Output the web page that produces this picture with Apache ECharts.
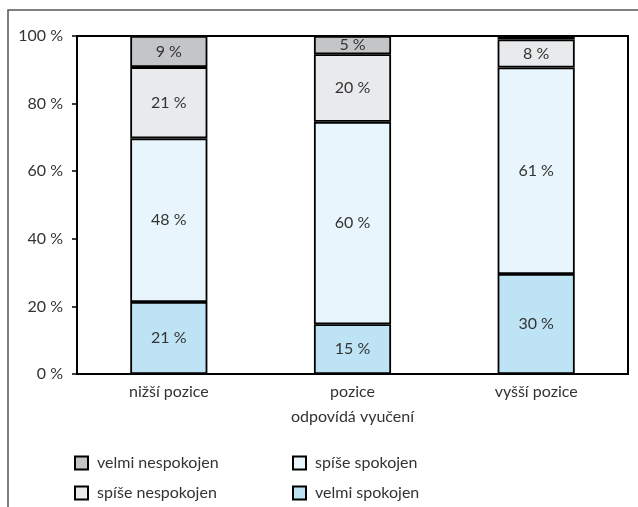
<!DOCTYPE html>
<html>
<head>
<meta charset="utf-8">
<script src="https://cdn.jsdelivr.net/npm/echarts@6/dist/echarts.min.js"></script>
<style>
  html, body { margin: 0; padding: 0; background: #fff; }
  #chart { width: 638px; height: 507px; }
</style>
</head>
<body>
<div id="chart"></div>
<script>
// categories on the x axis
var categories = ['nižší pozice', 'pozice\nodpovídá vyučení', 'vyšší pozice'];
// shares in % (labels show rounded values)
var velmiSpokojen = [21.3, 14.7, 29.6];
var spiseSpokojen = [48.4, 59.9, 61.1];
var spiseNespokojen = [21.1, 20.0, 8.3];
var velmiNespokojen = [9.2, 5.4, 1.0];
var yTicks = [0, 20, 40, 60, 80, 100];

var font = 'Lato, "Noto Sans", sans-serif';
var textColor = '#333';

function segment (name, data, color) {
  return {
    name: name,
    type: 'bar',
    stack: 'total',
    barWidth: '42%',
    data: data,
    itemStyle: { color: color, borderColor: '#000', borderWidth: 1.8 },
    label: {
      show: true,
      position: 'inside',
      color: textColor,
      fontFamily: font,
      fontSize: 16,
      formatter: function (p) {
        return p.value < 2 ? '' : Math.round(p.value) + ' %'
      }
    }
  }
}

var legendText = { fontFamily: font, fontSize: 16, lineHeight: 16, color: textColor, padding: [0, 0, 0, 4] };

function legendAt (left, names) {
  return {
    orient: 'vertical',
    left: left,
    top: 450,
    height: 50,
    itemWidth: 13,
    itemHeight: 13,
    itemGap: 14,
    icon: 'rect',
    data: names,
    itemStyle: { borderColor: '#000', borderWidth: 2 },
    textStyle: legendText
  }
}

var chart = echarts.init(document.getElementById('chart'));
chart.setOption({
  animation: false,
  backgroundColor: '#fff',
  textStyle: { fontFamily: font, color: textColor },
  graphic: [{
    type: 'polyline',
    shape: { points: [[8, 507], [8, 10], [638, 10]] },
    style: { stroke: '#555', lineWidth: 1.5, fill: null }
  }],
  grid: {
    left: 77,
    right: 10,
    top: 36,
    bottom: 133,
    show: true,
    borderColor: '#000',
    borderWidth: 2
  },
  legend: [
    legendAt(69, ['velmi nespokojen', 'spíše nespokojen']),
    legendAt(287, ['spíše spokojen', 'velmi spokojen'])
  ],
  xAxis: {
    type: 'category',
    data: categories,
    axisLine: { lineStyle: { color: '#000', width: 2 } },
    axisTick: { show: false },
    axisLabel: { color: textColor, fontFamily: font, fontSize: 16, lineHeight: 25, margin: 5 }
  },
  yAxis: {
    type: 'value',
    min: yTicks[0],
    max: yTicks[yTicks.length - 1],
    interval: 20,
    axisLine: { show: true, lineStyle: { color: '#000', width: 2 } },
    axisTick: { show: true, length: 5, lineStyle: { color: '#000', width: 1.5 } },
    splitLine: { show: false },
    axisLabel: { color: textColor, fontFamily: font, fontSize: 16, margin: 14, formatter: '{value} %' }
  },
  series: [
    segment('velmi spokojen', velmiSpokojen, '#bde3f5'),
    segment('spíše spokojen', spiseSpokojen, '#e8f5fc'),
    segment('spíše nespokojen', spiseNespokojen, '#e9eaec'),
    segment('velmi nespokojen', velmiNespokojen, '#c4c5c7')
  ]
});
</script>
</body>
</html>
